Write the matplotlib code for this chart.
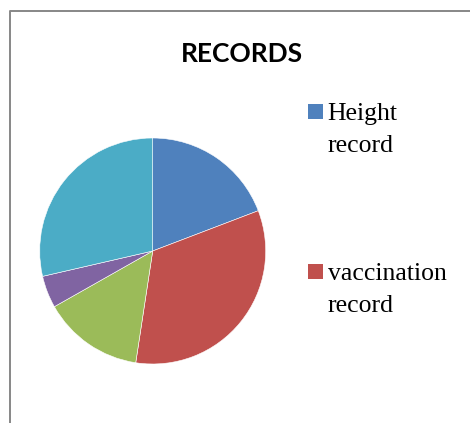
import matplotlib.pyplot as plt
from matplotlib.lines import Line2D
from matplotlib.patches import Rectangle

# slice shares (clockwise from 12 o'clock)
labels = ['Height record', 'vaccination record', 'record 3', 'record 4', 'record 5']
values = [19.2, 33.2, 14.4, 4.6, 28.6]
colors = ['#4F81BD', '#C0504D', '#9BBB59', '#8064A2', '#4BACC6']
shown = 2  # legend shows only the first two entries (rest cut off)

W, H = 470, 423
fig = plt.figure(figsize=(W / 100, H / 100), dpi=100)

# outer frame (only left and top edges visible)
fig.add_artist(Line2D([10 / W, 10 / W, 1.01], [-0.01, 1 - 11 / H, 1 - 11 / H],
                      transform=fig.transFigure, color='#878787', lw=1.4))

# pie
cx, cy, r = 152.7, 251, 113
ax = fig.add_axes([(cx - r) / W, (H - cy - r) / H, 2 * r / W, 2 * r / H])
ax.pie(values, colors=colors, startangle=90, counterclock=False, radius=1,
       wedgeprops=dict(edgecolor='white', linewidth=0.4))
ax.set_xlim(-1, 1)
ax.set_ylim(-1, 1)
ax.set_aspect('equal')
ax.axis('off')

fig.text(241.7 / W, 1 - 62 / H, 'RECORDS', ha='center', va='baseline',
         fontsize=19, fontweight='bold', family='Lato')

# legend, drawn by hand to keep the wide gap between entries
tops = [104.3, 264.3]
for i in range(shown):
    top = tops[i]
    fig.add_artist(Rectangle((308.3 / W, 1 - (top + 14.5) / H), 14.5 / W, 14.5 / H,
                             transform=fig.transFigure, color=colors[i], lw=0))
    words = labels[i].split(' ')
    for j, w in enumerate(words):
        fig.text(327.5 / W, 1 - (top + 15.5 + 32 * j) / H, w, ha='left', va='baseline',
                 fontsize=18.5, family='Liberation Serif')

fig.savefig('out.png', dpi=100, facecolor='white')
